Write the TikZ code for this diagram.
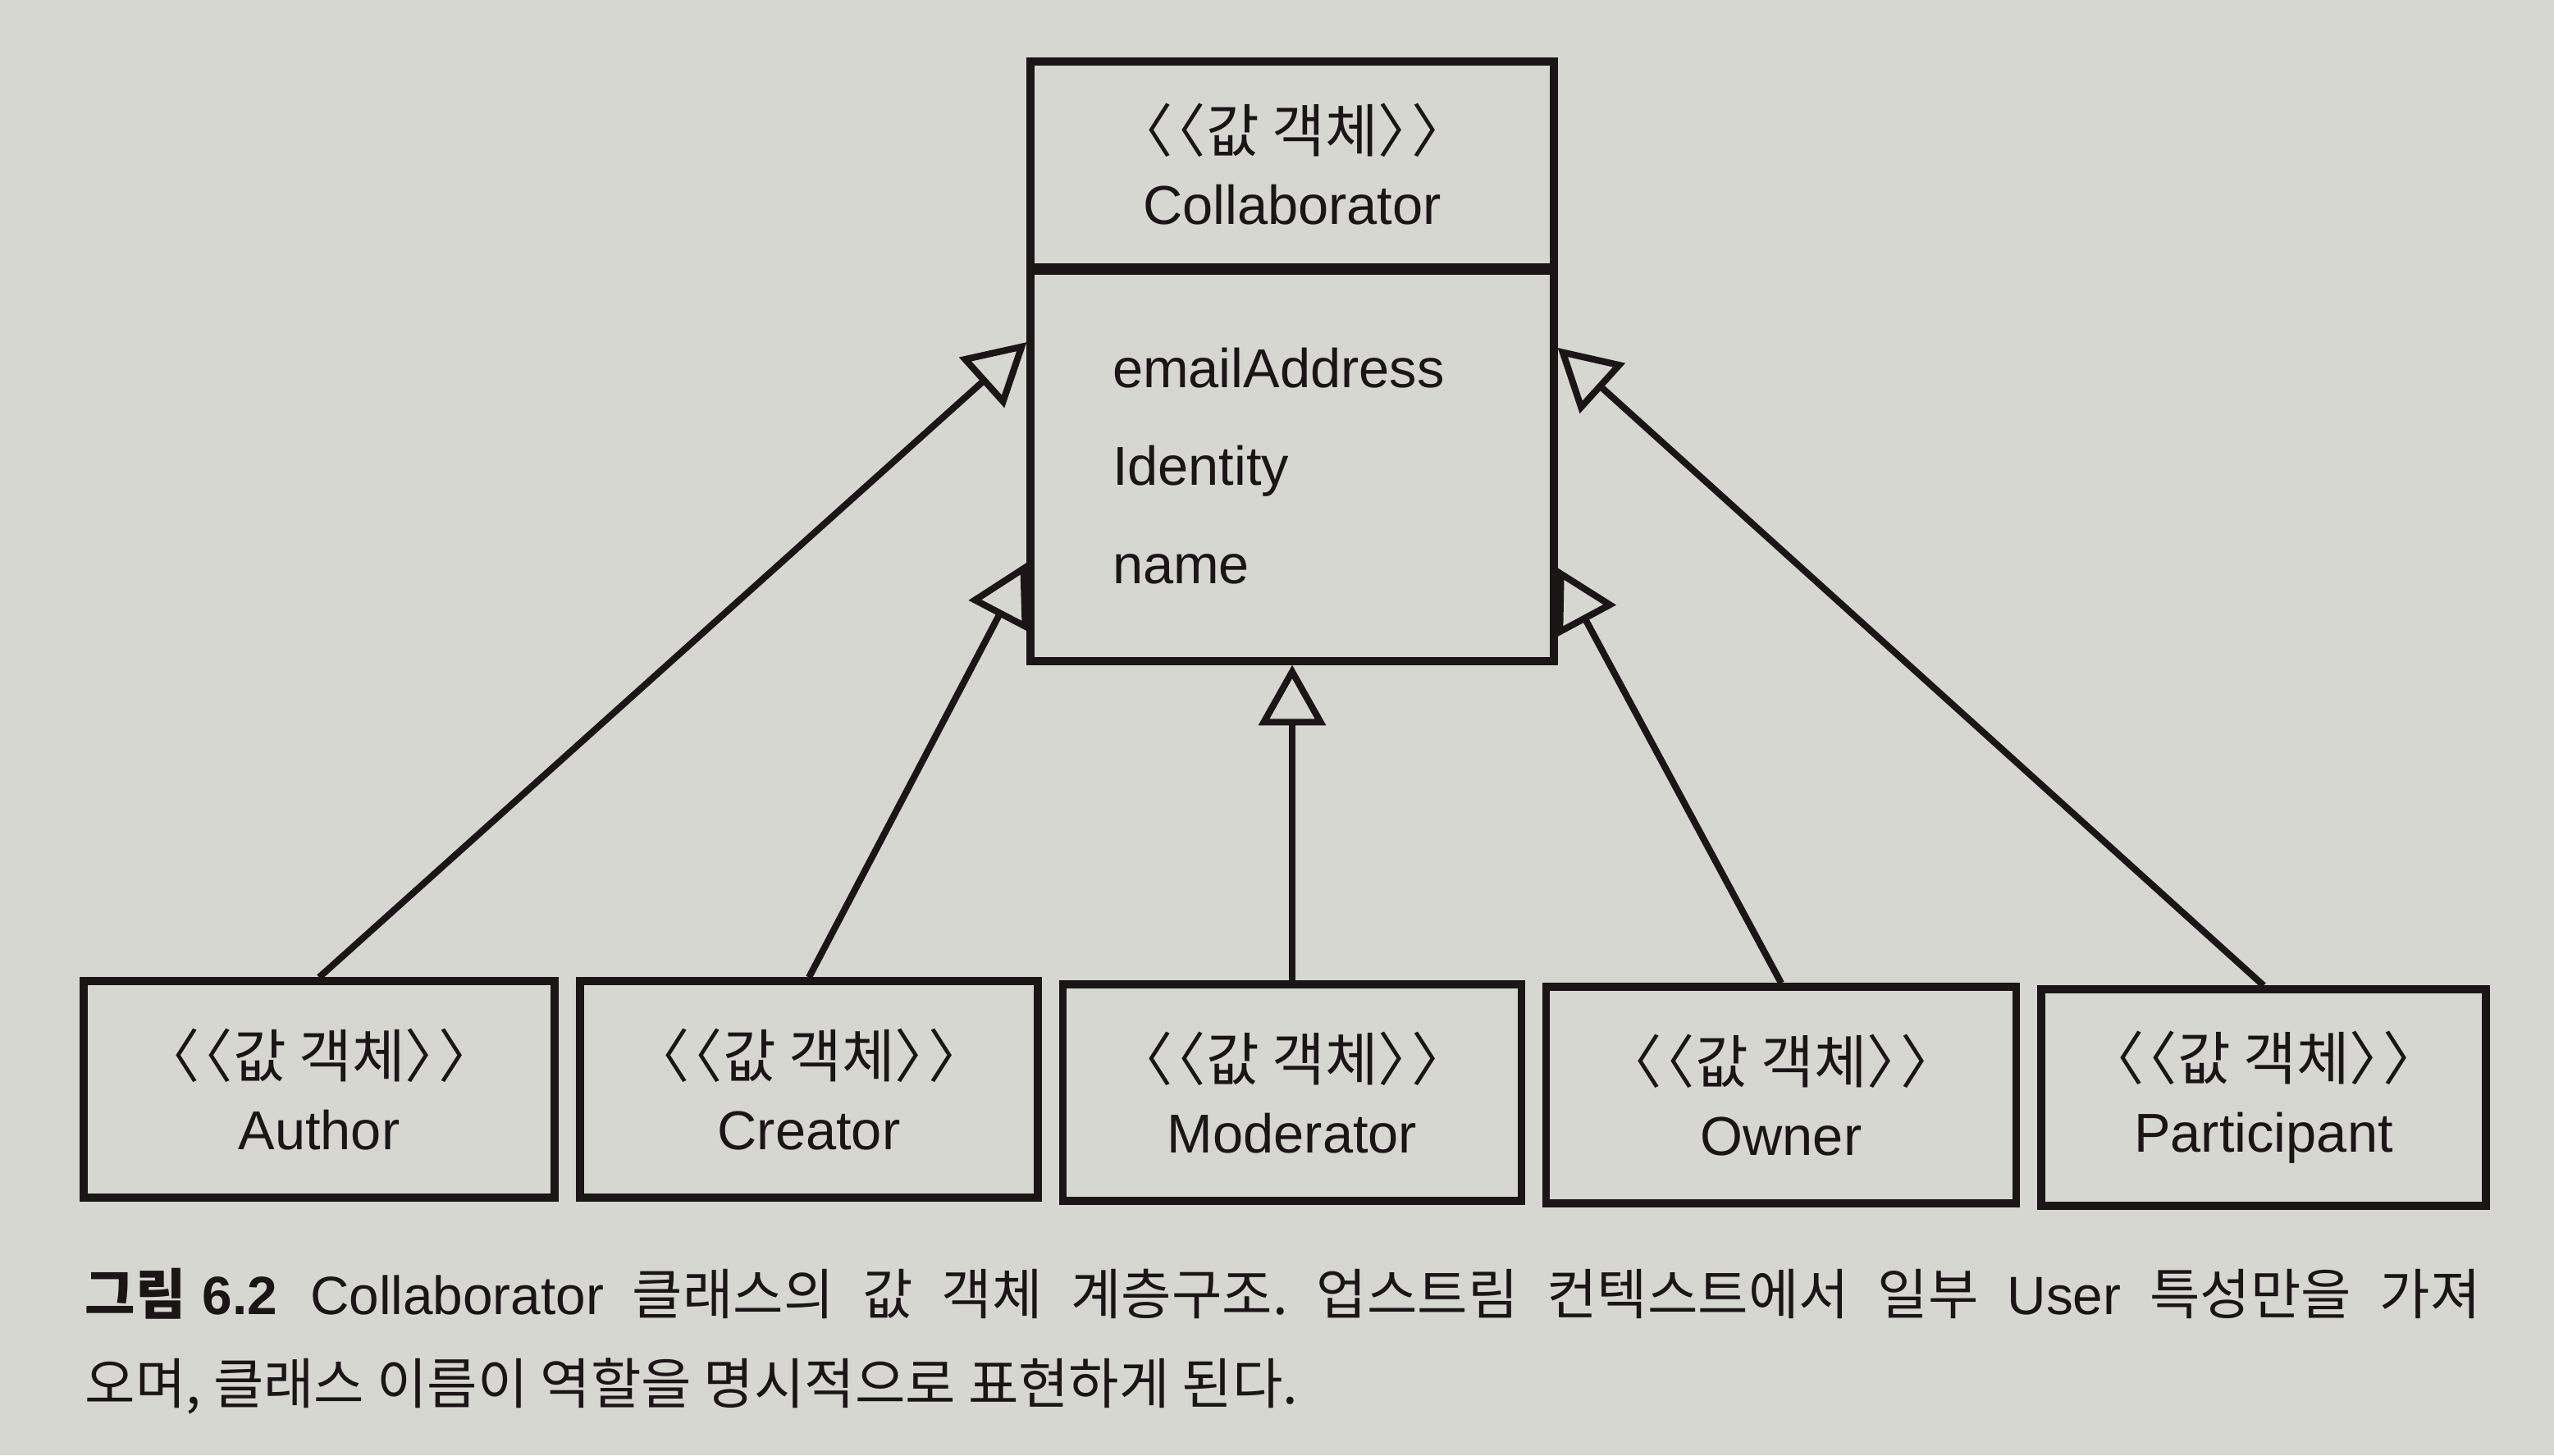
\documentclass[tikz,border=0pt]{standalone}
\usepackage{fontspec}
\setmainfont{Liberation Sans}
\newfontfamily\krfont{Noto Sans CJK KR}
\usetikzlibrary{arrows.meta}

\definecolor{paper}{RGB}{214,215,209}
\definecolor{ink}{RGB}{26,22,22}

\newcommand{\valobj}{{\krfont\fontsize{20pt}{25pt}\selectfont 〈\kern-0.42em〈값 객체〉\kern-0.42em〉}}
\newcommand{\lat}[1]{{\rmfamily\fontsize{18.7pt}{31pt}\selectfont #1}}

\begin{document}
\begin{tikzpicture}

\tikzset{classbox/.style = {shape=rectangle, draw=ink, line width=2.6pt, inner sep=0pt, align=center, text=ink, font=\fontsize{19pt}{25pt}\selectfont}}
\tikzset{childbox/.style = {classbox, minimum height=2.64cm}}
\tikzset{inherit/.style = {draw=ink, line width=2.3pt, -{Triangle[open, length=21pt, width=23pt]}}}

% paper
\fill[paper] (0,0) rectangle (31.13,-17.74);
\useasboundingbox (0,0) rectangle (31.13,-17.74);

% super class
\node[classbox, minimum width=6.38cm, minimum height=2.51cm] (collabhead) at (15.75,-2.005) {\valobj\\Collaborator};
\node[classbox, text width=4.38cm, inner xsep=1cm, minimum height=4.76cm, align=left, font=\fontsize{19pt}{34pt}\selectfont] (collabbody) at (15.75,-5.68) {emailAddress\\Identity\\name};

% value objects
\node[childbox, minimum width=5.74cm] (author) at (3.89,-13.28) {\valobj\\Author};
\node[childbox, minimum width=5.58cm] (creator) at (9.86,-13.28) {\valobj\\Creator};
\node[childbox, minimum width=5.59cm] (moderator) at (15.75,-13.32) {\valobj\\Moderator};
\node[childbox, minimum width=5.73cm] (owner) at (21.71,-13.35) {\valobj\\Owner};
\node[childbox, minimum width=5.42cm] (participant) at (27.59,-13.38) {\valobj\\Participant};

% generalizations
\draw[inherit] (author.north) -- (collabbody.155.6);
\draw[inherit] (creator.north) -- (collabbody.200.9);
\draw[inherit] (moderator.north) -- (collabbody.south);
\draw[inherit] (owner.north) -- (collabbody.339.1);
\draw[inherit] (participant.north) -- (collabbody.24.4);

% caption
\node[anchor=north west, inner sep=0pt, text width=29.2cm, align=justify, text=ink, font=\frenchspacing\krfont\fontsize{19pt}{31pt}\selectfont] (caption) at (1.03,-15.45) {{\bfseries 그림\hspace{0.3em}\lat{6.2}}\hspace{0.6em}\lat{Collaborator} 클래스의 값 객체 계층구조. 업스트림 컨텍스트에서 일부 \lat{User} 특성만을 가져\linebreak 오며, 클래스 이름이 역할을 명시적으로 표현하게 된다.};

\end{tikzpicture}
\end{document}
